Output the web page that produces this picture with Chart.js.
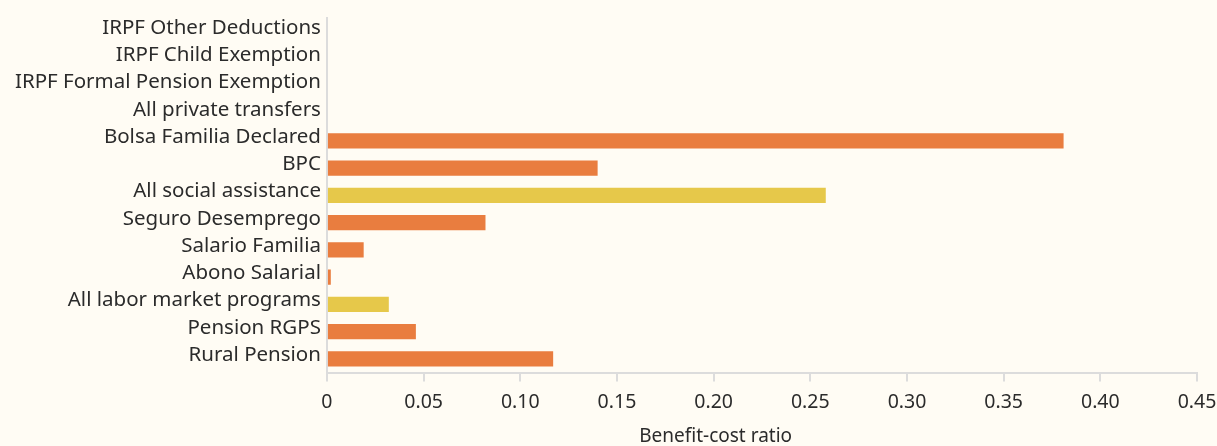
<!DOCTYPE html>
<html>
<head>
<meta charset="utf-8">
<script src="https://cdn.jsdelivr.net/npm/chart.js@4/dist/chart.umd.min.js"></script>
<style>
  html, body { margin: 0; padding: 0; background: #fffcf4; }
  #wrap { width: 1217px; height: 446px; position: relative; }
</style>
</head>
<body>
<div id="wrap"><canvas id="bcrChart"></canvas></div>
<script>
// Benefit-cost ratio by program
const programs = [
  'IRPF Other Deductions',
  'IRPF Child Exemption',
  'IRPF Formal Pension Exemption',
  'All private transfers',
  'Bolsa Familia Declared',
  'BPC',
  'All social assistance',
  'Seguro Desemprego',
  'Salario Familia',
  'Abono Salarial',
  'All labor market programs',
  'Pension RGPS',
  'Rural Pension'
];
const ratios = [null, null, null, null, 0.381, 0.140, 0.258, 0.082, 0.019, 0.002, 0.032, 0.046, 0.117];
// aggregate rows are drawn in yellow
const isAggregate = [false, false, false, true, false, false, true, false, false, false, true, false, false];
const xTicks = [0, 0.05, 0.10, 0.15, 0.20, 0.25, 0.30, 0.35, 0.40, 0.45];
const xTitle = 'Benefit-cost ratio';

const ORANGE = '#e97d3f';
const YELLOW = '#e6c84a';
const TEXT = '#2b2b2b';
const AXIS = '#dcdcdc';
const FONT = 'Noto Sans';

// axis title sits a little left of the axis centre, under the 0.20 tick
const axisTitle = {
  id: 'axisTitle',
  afterDraw(chart) {
    const x = chart.scales.x;
    const c = chart.ctx;
    c.save();
    c.fillStyle = TEXT;
    c.font = `19px "${FONT}"`;
    c.textAlign = 'center';
    c.textBaseline = 'middle';
    c.fillText(xTitle, x.getPixelForValue(0.2) + 2, chart.chartArea.bottom + 64);
    c.restore();
  }
};

const ctx = document.getElementById('bcrChart').getContext('2d');
const bcrChart = new Chart(ctx, {
  type: 'bar',
  data: {
    labels: programs,
    datasets: [{
      label: xTitle,
      data: ratios,
      backgroundColor: isAggregate.map(a => a ? YELLOW : ORANGE),
      barPercentage: 0.56,
      categoryPercentage: 1.0
    }]
  },
  plugins: [axisTitle],
  options: {
    indexAxis: 'y',
    responsive: true,
    maintainAspectRatio: false,
    animation: false,
    layout: { padding: { top: 16, left: 9, right: 0, bottom: 23 } },
    plugins: {
      legend: { display: false },
      tooltip: { enabled: false }
    },
    scales: {
      x: {
        min: 0,
        max: 0.45,
        afterBuildTicks: axis => { axis.ticks = xTicks.map(v => ({ value: v })); },
        afterFit: axis => { axis.paddingRight = 20; },
        ticks: {
          color: TEXT,
          font: { family: FONT, size: 19.5 },
          padding: 9,
          callback: v => v === 0 ? '0' : v.toFixed(2)
        },
        grid: { drawOnChartArea: false, tickLength: 9, color: AXIS, lineWidth: 2 },
        border: { color: AXIS, width: 2 }
      },
      y: {
        ticks: {
          color: TEXT,
          font: { family: FONT, size: 20.5 },
          padding: 6,
          labelOffset: -4,
          autoSkip: false
        },
        grid: { display: false, tickLength: 0 },
        border: { display: true, color: AXIS, width: 2 }
      }
    }
  }
});
</script>
</body>
</html>
